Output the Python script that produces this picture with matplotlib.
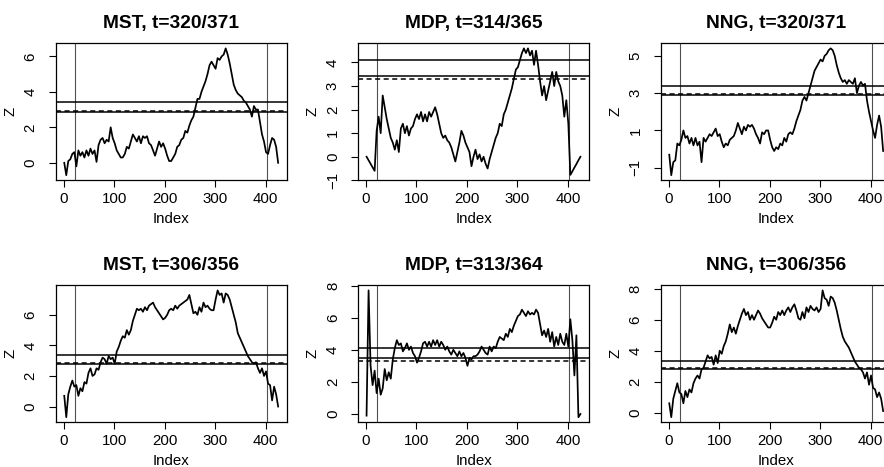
import numpy as np
import matplotlib
matplotlib.use("Agg")
import matplotlib.pyplot as plt

plt.rcParams['font.family'] = ['Liberation Sans', 'DejaVu Sans']

# ---------------- data (index 1..425, read every 4th index) ----------------
mst_top = [0.0, -0.7, 0.1, 0.2, 0.5, 0.6, -0.2, 0.7, 0.4, 0.6,
           0.3, 0.7, 0.4, 0.8, 0.5, 0.7, 0.05, 1.0, 1.3, 1.4,
           1.1, 1.3, 1.2, 2.0, 1.4, 1.1, 0.7, 0.5, 0.3, 0.3,
           0.5, 0.9, 0.8, 1.2, 1.6, 1.4, 1.2, 1.5, 1.1, 1.5,
           1.4, 1.5, 1.1, 1.0, 0.7, 0.4, 0.8, 1.2, 0.9, 1.1,
           0.8, 0.4, 0.1, 0.1, 0.3, 0.5, 0.9, 1.0, 1.3, 1.4,
           1.8, 1.7, 2.1, 2.4, 2.6, 3.1, 3.6, 3.6, 4.0, 4.3,
           4.6, 5.0, 5.5, 5.7, 5.5, 5.3, 5.9, 5.8, 6.0, 6.1,
           6.45, 6.1, 5.6, 5.0, 4.4, 4.1, 3.9, 3.8, 3.7, 3.5,
           3.4, 3.2, 3.0, 2.6, 3.2, 3.0, 3.0, 2.3, 1.6, 1.2,
           0.6, 0.5, 1.0, 1.4, 1.3, 0.9, 0.0]

mdp_top = [0.0, -0.15, -0.3, -0.45, -0.6, 1.1, 1.7, 1.0, 2.6, 2.1,
           1.6, 1.2, 0.8, 0.6, 0.3, 0.7, 0.2, 1.2, 1.4, 1.0,
           1.3, 0.9, 1.2, 1.3, 1.6, 1.8, 1.6, 1.9, 1.5, 1.8,
           1.5, 1.9, 1.7, 1.9, 2.1, 1.8, 1.4, 1.0, 0.8, 0.9,
           0.7, 0.6, 0.4, 0.1, -0.2, 0.2, 0.6, 1.1, 0.9, 0.6,
           0.4, 0.2, -0.4, 0.0, 0.3, -0.1, 0.1, -0.2, 0.0, -0.3,
           -0.5, -0.1, 0.2, 0.5, 0.8, 1.0, 1.4, 1.3, 1.8, 2.0,
           2.3, 2.6, 2.9, 3.3, 3.7, 3.8, 4.1, 4.4, 4.6, 4.4,
           4.6, 4.3, 4.5, 3.9, 4.5, 3.9, 3.2, 2.6, 3.0, 2.4,
           2.8, 3.2, 3.6, 3.0, 3.6, 3.2, 3.0, 2.6, 1.7, 2.4,
           1.4, -0.77, -0.62, -0.46, -0.31, -0.15, 0.0]

nng_top = [-0.3, -1.4, -0.7, -0.6, 0.3, 0.2, 0.5, 1.0, 0.6, 0.7,
           0.3, 0.6, 0.2, 0.6, 0.2, 0.4, -0.7, 0.6, 0.4, 0.6,
           0.8, 0.7, 0.9, 1.1, 0.7, 0.8, 0.4, 0.1, 0.3, 0.2,
           0.5, 0.6, 0.7, 1.0, 1.4, 1.1, 0.8, 1.2, 1.0, 1.3,
           1.2, 1.3, 1.1, 0.8, 0.6, 0.3, 0.9, 0.8, 1.0, 1.0,
           0.5, 0.1, -0.1, 0.1, 0.0, 0.3, 0.2, 0.6, 0.4, 0.8,
           0.9, 0.8, 1.1, 1.5, 1.8, 2.1, 2.6, 2.8, 2.6, 3.0,
           3.4, 3.8, 4.2, 4.4, 4.6, 4.8, 4.7, 5.0, 5.1, 5.3,
           5.4, 5.3, 5.0, 4.5, 4.1, 3.8, 3.6, 3.7, 3.5, 3.7,
           3.6, 3.5, 3.8, 3.0, 3.4, 3.6, 3.4, 3.5, 2.6, 2.0,
           1.5, 1.0, 0.6, 1.3, 1.8, 1.2, -0.1]

mst_bot = [0.7, -0.7, 0.8, 1.3, 1.7, 1.3, 1.4, 0.7, 1.2, 1.0,
           1.6, 1.5, 2.2, 2.5, 2.0, 2.1, 2.5, 2.4, 2.9, 3.2,
           3.1, 2.8, 3.3, 3.1, 3.2, 2.8, 3.6, 3.9, 4.3, 4.6,
           4.5, 5.0, 4.7, 5.0, 5.6, 6.0, 6.4, 6.3, 6.4, 6.2,
           6.5, 6.3, 6.6, 6.7, 6.8, 6.5, 6.3, 6.1, 5.9, 5.7,
           5.8, 6.0, 6.3, 6.4, 6.3, 6.6, 6.4, 6.6, 6.7, 6.8,
           6.9, 7.0, 7.3, 6.7, 6.1, 6.2, 6.0, 6.5, 6.2, 6.8,
           6.5, 6.6, 6.4, 6.3, 6.3, 7.0, 7.6, 7.3, 7.4, 6.8,
           7.4, 7.3, 7.0, 6.5, 6.0, 5.5, 4.8, 4.5, 4.2, 3.9,
           3.6, 3.3, 3.1, 2.9, 2.8, 2.9, 2.5, 2.2, 2.5, 2.0,
           2.3, 1.5, 1.4, 0.4, 1.3, 0.8, 0.0]

mdp_bot = [-0.1, 7.7, 3.0, 1.8, 2.7, 1.3, 2.2, 1.2, 1.6, 2.8,
           2.1, 2.6, 2.2, 3.4, 4.1, 4.6, 4.3, 4.4, 3.9, 4.1,
           4.4, 4.0, 4.2, 3.8, 3.6, 3.2, 3.5, 3.9, 4.4, 4.5,
           4.2, 4.5, 4.2, 4.6, 4.3, 4.6, 4.2, 4.5, 4.3, 4.0,
           4.2, 3.9, 3.7, 4.0, 3.8, 3.6, 3.9, 3.6, 3.8, 3.5,
           3.0, 3.5, 3.4, 3.6, 3.6, 3.7, 3.9, 4.2, 4.0, 3.8,
           3.7, 4.2, 3.9, 4.2, 4.1, 4.5, 4.8, 4.7, 4.6, 5.0,
           4.8, 5.3, 5.1, 5.5, 5.8, 6.1, 6.2, 6.5, 6.3, 6.1,
           6.4, 6.2, 6.3, 6.2, 6.5, 6.3, 5.6, 4.9, 5.2, 4.8,
           5.3, 4.5, 5.1, 4.2, 4.8, 4.3, 5.0, 4.5, 4.3, 5.0,
           4.2, 5.9, 4.6, 2.4, 4.9, -0.2, 0.0]

nng_bot = [0.6, -0.3, 0.9, 1.4, 1.9, 1.3, 1.2, 0.6, 1.4, 1.0,
           1.5, 1.3, 1.9, 2.2, 2.4, 2.2, 2.8, 2.9, 3.3, 3.7,
           3.5, 3.6, 3.1, 3.7, 3.2, 4.0, 3.8, 4.3, 4.6, 5.1,
           5.7, 5.2, 5.5, 5.1, 5.6, 6.0, 6.4, 6.7, 6.3, 6.5,
           6.0, 6.3, 6.0, 6.3, 6.6, 6.4, 6.1, 5.9, 5.7, 5.5,
           5.5, 5.8, 6.2, 6.0, 6.5, 6.3, 6.6, 6.3, 6.6, 6.8,
           6.5, 6.8, 7.0, 6.6, 6.1, 6.0, 6.5, 6.1, 6.8, 6.5,
           6.9, 6.7, 6.6, 6.8, 6.5, 6.7, 7.9, 7.4, 7.3, 6.9,
           7.5, 7.4, 7.1, 6.6, 6.0, 5.4, 4.9, 4.6, 4.4, 4.2,
           3.9, 3.6, 3.3, 3.1, 2.9, 2.8, 2.6, 2.2, 2.6, 1.8,
           2.4, 1.6, 1.5, 1.0, 1.3, 0.9, 0.1]

series = [mst_top, mdp_top, nng_top, mst_bot, mdp_bot, nng_bot]
titles = ["MST, t=320/371", "MDP, t=314/365", "NNG, t=320/371",
          "MST, t=306/356", "MDP, t=313/364", "NNG, t=306/356"]
solid_hi = [3.42, 4.11, 3.39, 3.39, 4.09, 3.33]
solid_lo = [2.85, 3.43, 2.91, 2.79, 3.46, 2.81]
dashed = [2.92, 3.29, 2.96, 2.84, 3.28, 2.87]
vlines = [22, 402]
yticks = [[0, 2, 4, 6], [-1, 0, 1, 2, 3, 4], [-1, 1, 3, 5],
          [0, 2, 4, 6], [0, 2, 4, 6, 8], [0, 2, 4, 6, 8]]
xticks = [0, 100, 200, 300, 400]
n_index = 425

# ---------------- layout ----------------
W, H = 884, 467
fig = plt.figure(figsize=(W / 100, H / 100), dpi=100)
lefts = [55.7, 358.0, 660.7]
axw = 231.0
tops = [43.3, 285.3]
axh = 137.0

for k, y in enumerate(series):
    r, c = divmod(k, 3)
    ax = fig.add_axes([lefts[c] / W, 1 - (tops[r] + axh) / H, axw / W, axh / H])
    y = np.asarray(y, dtype=float)
    x = np.linspace(1, n_index, len(y))
    ax.plot(x, y, color='black', lw=1.25, zorder=3)
    for v in vlines:
        ax.axvline(v, color='#505050', lw=0.8, zorder=2)
    ax.axhline(solid_hi[k], color='black', lw=1.1, zorder=4)
    ax.axhline(solid_lo[k], color='black', lw=1.1, zorder=4)
    ax.axhline(dashed[k], color='black', lw=1.1, ls=(0, (3.3, 2.3)), zorder=4)
    xr = n_index - 1
    ax.set_xlim(1 - 0.04 * xr, n_index + 0.04 * xr)
    lo, hi = y.min(), y.max()
    ax.set_ylim(lo - 0.04 * (hi - lo), hi + 0.04 * (hi - lo))
    ax.set_xticks(xticks)
    ax.set_yticks(yticks[k])
    ax.tick_params(axis='both', direction='out', length=5, width=0.8,
                   labelsize=10.8, colors='black')
    ax.tick_params(axis='x', pad=3.5)
    ax.tick_params(axis='y', pad=8, labelrotation=90)
    for lab in ax.get_yticklabels():
        lab.set_va('center')
    for sp in ax.spines.values():
        sp.set_linewidth(0.9)
    ax.set_title(titles[k], fontsize=13.8, fontweight='bold', pad=10.8)
    ax.set_xlabel('Index', fontsize=10.8, labelpad=4.2)
    ax.set_ylabel('Z', fontsize=10.8, labelpad=4.5)

fig.savefig('out.png', dpi=100)
